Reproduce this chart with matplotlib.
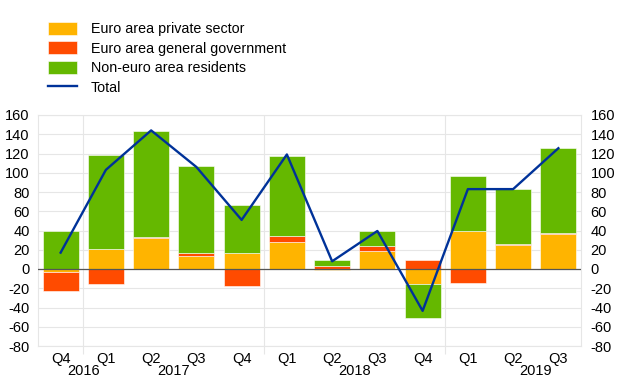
import numpy as np
import matplotlib.pyplot as plt
import matplotlib.transforms as mtransforms
from matplotlib.patches import Patch
from matplotlib.lines import Line2D

plt.rcParams['font.family'] = ['Liberation Sans', 'DejaVu Sans']

# Quarters Q4 2016 - Q3 2019
quarters = ['Q4', 'Q1', 'Q2', 'Q3', 'Q4', 'Q1', 'Q2', 'Q3', 'Q4', 'Q1', 'Q2', 'Q3']
years = ['2016', '2017', '2018', '2019']
year_pos = [0.5, 2.5, 6.5, 10.5]
year_bounds = [0.5, 4.5, 8.5]

private = [-3, 21, 32, 14, 17, 28.5, -1.5, 19, -15.5, 39.5, 25, 36]
government = [-20, -15.5, 1.5, 2.5, -17.5, 5.5, 3.5, 5, 9, -15, 1, 1.5]
non_euro = [40, 97, 110, 90, 50, 83, 6, 15, -35, 57, 57, 88.5]
total = [17, 103, 144, 106, 51, 119, 8, 39.5, -43.5, 83, 83, 125.5]

series = [private, government, non_euro]
labels = ['Euro area private sector', 'Euro area general government', 'Non-euro area residents']
colors = ['#ffb400', '#ff4b00', '#65b800']
line_color = '#003299'
grid_color = '#e6e6e6'

x = np.arange(len(quarters))

fig = plt.figure(figsize=(6.2, 3.87), dpi=100)
ax = fig.add_axes([38 / 620, 1 - 346 / 387, 543 / 620, 231 / 387])

pos_base = np.zeros(len(x))
neg_base = np.zeros(len(x))
for vals, col in zip(series, colors):
    v = np.array(vals, dtype=float)
    bottom = np.where(v >= 0, pos_base, neg_base)
    ax.bar(x, v, bottom=bottom, width=0.8, color=col, edgecolor='white',
           linewidth=0.4, zorder=3)
    pos_base += np.where(v >= 0, v, 0)
    neg_base += np.where(v < 0, v, 0)

ax.plot(x, total, color=line_color, linewidth=1.7, zorder=4)
ax.axhline(0, color='#555555', linewidth=0.9, zorder=3.5)

ax.set_xlim(-0.5, len(x) - 0.5)
ax.set_ylim(-80, 160)
yt = np.arange(-80, 161, 20)
ax.set_yticks(yt)
ax.set_yticklabels([str(v) for v in yt], fontsize=10.5)
ax.tick_params(axis='y', length=0, pad=6)
ax.yaxis.grid(True, color=grid_color, linewidth=0.8, zorder=0)

ax.set_xticks(x)
ax.set_xticklabels(quarters, fontsize=10.5)
ax.tick_params(axis='x', length=0, pad=4)
ax.set_xticks(year_bounds, minor=True)
ax.tick_params(axis='x', which='minor', length=6, color=grid_color, width=0.8)
ax.xaxis.grid(True, which='minor', color=grid_color, linewidth=0.8, zorder=0)

for s in ax.spines.values():
    s.set_color(grid_color)
    s.set_linewidth(0.8)

ax2 = ax.twinx()
ax2.set_ylim(-80, 160)
ax2.set_yticks(yt)
ax2.set_yticklabels([str(v) for v in yt], fontsize=10.5)
ax2.tick_params(axis='y', length=0, pad=7)
for s in ax2.spines.values():
    s.set_visible(False)

trans = mtransforms.blended_transform_factory(ax.transData, fig.transFigure)
for yr, p in zip(years, year_pos):
    ax.text(p, 1 - 371 / 387, yr, transform=trans, ha='center', va='center', fontsize=10.5)

handles = [Patch(facecolor=c, edgecolor='white', linewidth=0.4) for c in colors]
handles.append(Line2D([0], [0], color=line_color, linewidth=1.7))
fig.legend(handles, labels + ['Total'], loc='upper left',
           bbox_to_anchor=(48 / 620, 1 - 22 / 387), frameon=False,
           fontsize=10.3, handlelength=2.0, handleheight=1.0,
           labelspacing=0.36, handletextpad=1.0, borderpad=0, borderaxespad=0)

fig.savefig('out.png', dpi=100)
